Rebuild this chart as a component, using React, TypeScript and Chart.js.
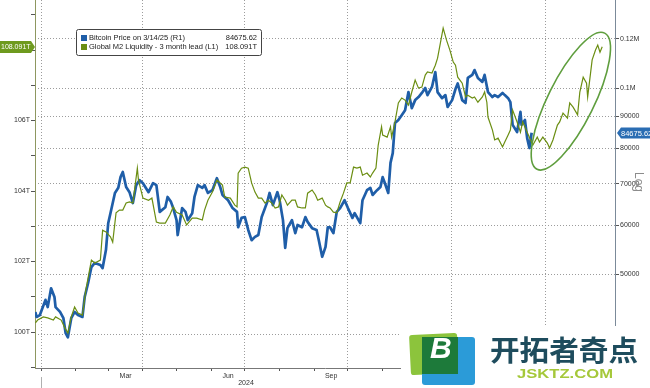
import React, { useEffect, useRef } from "react";
import { Chart, registerables } from "chart.js";

Chart.register(...registerables);

const FONT = '"Liberation Sans", Arial, sans-serif';

// x values are days since 2024-01-01
const btcSeries: [number, number][] = [
  [-5, 43500], [-4, 42700], [-1, 43000], [4, 45500], [6, 44300], [9, 47500], [12, 46000], [13, 44300],
  [17, 43500], [20, 42500], [22, 40200], [24, 39600], [27, 42500], [30, 43500], [33, 43000], [37, 42700],
  [39, 46000], [42, 48400], [45, 51400], [48, 52200], [53, 51800], [55, 51200], [58, 54800], [60, 60500],
  [62, 62800], [66, 67700], [69, 69000], [71, 71800], [73, 73200], [76, 69200], [79, 67900], [82, 65200],
  [85, 69700], [88, 71000], [91, 70200], [96, 67900], [100, 70200], [103, 69700], [106, 63100], [111, 64200],
  [113, 66700], [116, 65500], [118, 64000], [121, 61200], [122, 57900], [126, 64000], [129, 63100], [131, 61200],
  [135, 62800], [137, 66700], [140, 69700], [144, 69000], [146, 69700], [149, 67700], [153, 68400], [157, 71500],
  [160, 69200], [162, 67200], [167, 65900], [171, 64000], [175, 63100], [176, 59600], [179, 61700], [182, 61900],
  [185, 59000], [188, 56800], [191, 57500], [194, 57900], [197, 61900], [202, 65500], [204, 67700], [207, 64700],
  [211, 67900], [213, 65900], [216, 61200], [218, 55200], [220, 59400], [224, 61200], [227, 58300], [229, 60100],
  [233, 59600], [236, 61900], [238, 60800], [242, 59400], [246, 59000], [248, 56800], [251, 53400], [254, 55400],
  [256, 59600], [258, 59600], [261, 58300], [264, 63100], [267, 64000], [271, 65900], [274, 64000], [278, 61700],
  [280, 62800], [285, 60500], [287, 65900], [291, 68400], [294, 69000], [296, 67200], [300, 68400], [303, 69200],
  [305, 71800], [307, 70200], [310, 67700], [312, 75700], [314, 78500], [316, 87800], [319, 88800], [322, 90400],
  [325, 92100], [328, 98500], [331, 92800], [334, 95600], [337, 96700], [340, 98200], [343, 100000], [345, 97400],
  [349, 100400], [352, 106100], [354, 98500], [358, 96300], [361, 97400], [363, 93200], [367, 95600], [370, 99600],
  [372, 101700], [376, 95600], [379, 94600], [381, 103800], [385, 105000], [387, 106900], [390, 103800], [394, 102300],
  [396, 105000], [399, 98500], [403, 96700], [405, 97400], [408, 96700], [412, 98200], [414, 97400], [417, 96300],
  [419, 94900], [421, 87200], [425, 84900], [428, 91500], [429, 87200], [432, 88800], [434, 83000], [436, 80000],
  [438, 84675.62],
];

const m2Series: [number, number][] = [
  [-5, 100.26], [-3, 100.34], [2, 100.43], [6, 100.4], [11, 100.34], [13, 100.43], [18, 100.34], [21, 100.14],
  [24, 99.97], [27, 100.43], [30, 100.71], [33, 100.54], [37, 100.48], [40, 101.19], [45, 102.04], [48, 101.96],
  [53, 102.04], [55, 102.89], [58, 102.84], [62, 102.7], [64, 102.55], [67, 103.38], [70, 103.46], [73, 103.46],
  [76, 103.66], [79, 103.69], [82, 103.66], [86, 104.65], [87, 104.31], [91, 103.8], [96, 103.74], [99, 103.8],
  [103, 103.12], [106, 103.09], [111, 103.09], [115, 103.32], [118, 103.55], [121, 103.4], [126, 103.32], [130, 103.04],
  [135, 103.23], [139, 103.23], [144, 103.18], [146, 103.46], [149, 103.74], [153, 103.97], [157, 104.31], [162, 104.17],
  [164, 103.83], [169, 103.8], [173, 103.6], [175, 103.55], [176, 104.51], [179, 104.65], [182, 104.68], [185, 104.65],
  [188, 104.23], [191, 103.97], [194, 103.8], [197, 103.8], [200, 103.66], [203, 103.74], [206, 103.66], [209, 103.52],
  [212, 103.55], [215, 103.89], [218, 103.74], [220, 103.6], [224, 103.74], [227, 103.74], [229, 103.55], [233, 103.52],
  [236, 103.52], [238, 103.94], [242, 104.03], [245, 103.89], [247, 103.74], [251, 103.8], [254, 103.6], [256, 103.55],
  [258, 103.52], [261, 103.4], [264, 103.38], [267, 103.69], [270, 103.94], [273, 104.23], [276, 104.23], [279, 104.68],
  [282, 104.65], [285, 104.68], [287, 104.45], [291, 104.51], [294, 104.4], [296, 104.51], [299, 104.65], [301, 105.3],
  [304, 105.82], [305, 105.59], [309, 105.53], [312, 105.82], [313, 105.53], [316, 105.96], [319, 106.5], [322, 106.64],
  [325, 106.58], [328, 106.44], [331, 106.81], [334, 107.15], [337, 106.92], [340, 106.95], [343, 107.29], [345, 107.38],
  [349, 107.35], [352, 107.57], [354, 107.77], [357, 108.28], [359, 108.62], [362, 108.28], [365, 108.0], [368, 107.66],
  [370, 107.57], [372, 107.23], [376, 107.06], [379, 106.67], [381, 106.72], [385, 106.64], [387, 106.67], [390, 106.52],
  [394, 106.67], [396, 106.81], [398, 106.52], [399, 106.1], [403, 105.73], [405, 105.45], [408, 105.5], [412, 105.25],
  [414, 105.39], [417, 105.59], [419, 105.73], [421, 106.3], [425, 105.96], [428, 105.67], [430, 105.96], [434, 105.67],
  [437, 105.45], [439, 105.3], [443, 105.53], [445, 105.39], [448, 105.53], [452, 105.36], [454, 105.22], [457, 105.45],
  [461, 105.87], [463, 105.96], [466, 106.21], [470, 106.07], [472, 106.5], [475, 106.38], [479, 106.16], [481, 106.81],
  [484, 107.23], [487, 107.06], [488, 106.67], [492, 107.72], [495, 108.0], [497, 108.14], [499, 107.94], [501, 108.091],
];

const monthStarts = [0, 31, 60, 91, 121, 152, 182, 213, 244, 274, 305, 335, 366, 397, 425, 456, 486];
const quarterGrid = [0, 91, 182, 274, 366, 450];
const monthLabels: [number, string][] = [[75.5, "Mar"], [167, "Jun"], [259, "Sep"], [350.5, "Dec"], [440.5, "Mar"]];
const yearLabels: [number, string][] = [[183, "2024"], [440, "2025"]];
const yearStarts = [0, 366];
const leftTicks = [99, 100, 101, 102, 103, 104, 105, 106, 107, 108, 109];
const rightTicks = [40000, 50000, 60000, 70000, 80000, 90000, 100000, 120000];
const rightTickLabels: Record<number, string> = { 120000: "0.12M", 100000: "0.1M" };

const legendNames = ["Bitcoin Price on 3/14/25 (R1)", "Global M2 Liquidity - 3 month lead (L1)"];
const legendValues = ["84675.62", "108.091T"];
const lastBtc = 84675.62;
const lastM2 = 108.091;

const BLUE = "#1f5ea8";
const GREEN = "#6b8e12";

const xTickValues = Array.from(
  new Set([...monthStarts, ...quarterGrid, ...monthLabels.map((m) => m[0])])
).sort((a, b) => a - b);

function roundRectPath(ctx: CanvasRenderingContext2D, x: number, y: number, w: number, h: number, r: number) {
  ctx.beginPath();
  ctx.moveTo(x + r, y);
  ctx.lineTo(x + w - r, y);
  ctx.quadraticCurveTo(x + w, y, x + w, y + r);
  ctx.lineTo(x + w, y + h - r);
  ctx.quadraticCurveTo(x + w, y + h, x + w - r, y + h);
  ctx.lineTo(x + r, y + h);
  ctx.quadraticCurveTo(x, y + h, x, y + h - r);
  ctx.lineTo(x, y + r);
  ctx.quadraticCurveTo(x, y, x + r, y);
  ctx.closePath();
}

function fitText(ctx: CanvasRenderingContext2D, text: string, x: number, y: number, width: number) {
  const w = ctx.measureText(text).width;
  ctx.save();
  ctx.translate(x, y);
  ctx.scale(width / w, 1);
  ctx.fillText(text, 0, 0);
  ctx.restore();
}

const noPad = (s: any) => {
  s.paddingTop = 0;
  s.paddingBottom = 0;
  s.paddingLeft = 0;
  s.paddingRight = 0;
};

const overlayPlugin = {
  id: "overlay",
  afterDraw(chart: any) {
    const ctx: CanvasRenderingContext2D = chart.ctx;
    const xs = chart.scales.x;
    const yl = chart.scales.y;
    const yr = chart.scales.y1;
    ctx.save();

    // year labels + separators
    ctx.font = `7px ${FONT}`;
    ctx.fillStyle = "#333";
    ctx.textAlign = "center";
    ctx.textBaseline = "middle";
    yearLabels.forEach(([d, t]) => ctx.fillText(t, xs.getPixelForValue(d), 383.5));
    ctx.strokeStyle = "#b0b0b0";
    ctx.lineWidth = 1;
    yearStarts.forEach((d) => {
      const px = Math.round(xs.getPixelForValue(d)) + 0.5;
      ctx.beginPath();
      ctx.moveTo(px, 377);
      ctx.lineTo(px, 388);
      ctx.stroke();
    });

    // ellipse annotation
    const cx = xs.getPixelForValue(473);
    const cy = yl.getPixelForValue(106.55);
    ctx.beginPath();
    ctx.ellipse(cx, cy, 76, 23, -1.11, 0, Math.PI * 2);
    ctx.strokeStyle = "#5f9e3e";
    ctx.lineWidth = 1.6;
    ctx.stroke();

    // legend box
    roundRectPath(ctx, 76.5, 29.5, 185, 26, 2);
    ctx.fillStyle = "#fff";
    ctx.fill();
    ctx.strokeStyle = "#444";
    ctx.lineWidth = 1;
    ctx.stroke();
    ctx.font = `7.5px ${FONT}`;
    ctx.textBaseline = "middle";
    [BLUE, GREEN].forEach((c, i) => {
      const yy = 38 + i * 9;
      ctx.fillStyle = c;
      ctx.fillRect(81, yy - 3, 6, 6);
      ctx.fillStyle = "#222";
      ctx.textAlign = "left";
      ctx.fillText(legendNames[i], 89, yy);
      ctx.textAlign = "right";
      ctx.fillText(legendValues[i], 257, yy);
    });

    // left value tag
    const ly = Math.round(yl.getPixelForValue(lastM2));
    ctx.beginPath();
    ctx.moveTo(0, ly - 6);
    ctx.lineTo(31, ly - 6);
    ctx.lineTo(35, ly);
    ctx.lineTo(31, ly + 6);
    ctx.lineTo(0, ly + 6);
    ctx.closePath();
    ctx.fillStyle = "#6e9a1e";
    ctx.fill();
    ctx.fillStyle = "#fff";
    ctx.font = `7px ${FONT}`;
    ctx.textAlign = "left";
    ctx.fillText(legendValues[1], 1, ly + 0.5);

    // right value tag
    const ry = Math.round(yr.getPixelForValue(lastBtc));
    ctx.beginPath();
    ctx.moveTo(617, ry);
    ctx.lineTo(621, ry - 5.5);
    ctx.lineTo(650, ry - 5.5);
    ctx.lineTo(650, ry + 5.5);
    ctx.lineTo(621, ry + 5.5);
    ctx.closePath();
    ctx.fillStyle = "#2a6db3";
    ctx.fill();
    ctx.fillStyle = "#fff";
    ctx.font = `7.5px ${FONT}`;
    ctx.fillText(legendValues[0], 621, ry + 0.5);

    // "Log" label
    ctx.save();
    ctx.translate(638, 182);
    ctx.rotate(Math.PI / 2);
    ctx.font = `12px ${FONT}`;
    ctx.fillStyle = "#8c8c8c";
    ctx.textAlign = "center";
    ctx.textBaseline = "middle";
    ctx.fillText("Log", 0, 0);
    ctx.restore();

    // watermark
    ctx.fillStyle = "#fff";
    ctx.fillRect(401, 326, 249, 62);
    ctx.save();
    ctx.translate(434, 354);
    ctx.rotate(-0.05);
    ctx.fillStyle = "#8cc43c";
    roundRectPath(ctx, -24, -20, 48, 40, 3);
    ctx.fill();
    ctx.restore();
    ctx.save();
    ctx.translate(448.5, 361);
    ctx.fillStyle = "#2b9bd8";
    roundRectPath(ctx, -26.5, -24, 53, 48, 3);
    ctx.fill();
    ctx.restore();
    ctx.save();
    ctx.beginPath();
    ctx.rect(422, 337, 36, 37);
    ctx.fillStyle = "#1d7a3a";
    ctx.fill();
    ctx.restore();
    ctx.save();
    ctx.font = `italic bold 30px ${FONT}`;
    ctx.fillStyle = "#fff";
    ctx.textAlign = "left";
    ctx.textBaseline = "middle";
    ctx.fillText("B", 430, 350);
    ctx.restore();

    ctx.font = `bold 28px "Noto Sans CJK SC", sans-serif`;
    ctx.fillStyle = "#1e4c5d";
    ctx.textAlign = "left";
    ctx.textBaseline = "middle";
    fitText(ctx, "开拓者奇点", 490, 350, 148);
    ctx.font = `bold 13px ${FONT}`;
    ctx.fillStyle = "#a5c83a";
    fitText(ctx, "JSKTZ.COM", 517, 374.5, 96);

    ctx.restore();
  },
};

export default function App() {
  const ref = useRef<HTMLCanvasElement | null>(null);

  useEffect(() => {
    if (!ref.current) return;
    const chart = new Chart(ref.current, {
      type: "line",
      data: {
        datasets: [
          {
            label: legendNames[1],
            data: m2Series.map(([x, y]) => ({ x, y })),
            xAxisID: "x",
            yAxisID: "y",
            borderColor: GREEN,
            borderWidth: 1.2,
            pointRadius: 0,
            tension: 0,
            order: 0,
          },
          {
            label: legendNames[0],
            data: btcSeries.map(([x, y]) => ({ x, y })),
            xAxisID: "x",
            yAxisID: "y1",
            borderColor: BLUE,
            borderWidth: 2.7,
            borderJoinStyle: "round",
            pointRadius: 0,
            tension: 0,
            order: 1,
          },
        ],
      },
      options: {
        responsive: false,
        animation: false,
        devicePixelRatio: 1,
        events: [],
        layout: { padding: 0 },
        plugins: { legend: { display: false }, tooltip: { enabled: false } },
        scales: {
          x: {
            type: "linear",
            position: "bottom",
            min: -5.36,
            max: 512.4,
            afterBuildTicks: (s: any) => {
              s.ticks = xTickValues.map((v) => ({ value: v }));
            },
            afterFit: (s: any) => {
              s.height = 20;
              noPad(s);
            },
            grid: {
              color: (c: any) => (quarterGrid.includes(c.tick?.value) ? "#9c9c9c" : "rgba(0,0,0,0)"),
              tickColor: (c: any) => (monthStarts.includes(c.tick?.value) ? "#555" : "rgba(0,0,0,0)"),
              tickLength: 3,
              lineWidth: 1,
            },
            border: { display: true, color: "#777", dash: [1, 2] },
            ticks: {
              autoSkip: false,
              maxRotation: 0,
              minRotation: 0,
              padding: 1,
              color: "#333",
              font: { size: 7, family: FONT },
              callback: (v: any) => {
                const m = monthLabels.find((l) => l[0] === v);
                return m ? m[1] : "";
              },
            },
          },
          y: {
            type: "linear",
            position: "left",
            min: 98.98,
            max: 109.42,
            afterBuildTicks: (s: any) => {
              s.ticks = leftTicks.map((v) => ({ value: v }));
            },
            afterFit: (s: any) => {
              s.width = 35;
              noPad(s);
            },
            grid: { drawOnChartArea: false, tickLength: 4, tickColor: "#555", color: "#555" },
            border: { display: true, color: "#8e9760" },
            ticks: {
              autoSkip: false,
              padding: 1,
              color: "#333",
              font: { size: 7, family: FONT },
              callback: (v: any) => (v % 2 === 0 ? `${v}T` : ""),
            },
          },
          y1: {
            type: "logarithmic",
            position: "right",
            min: 35320,
            max: 138700,
            afterBuildTicks: (s: any) => {
              s.ticks = rightTicks.map((v) => ({ value: v }));
            },
            afterFit: (s: any) => {
              s.width = 35;
              noPad(s);
            },
            grid: { drawOnChartArea: true, color: "#9c9c9c", tickColor: "#555", tickLength: 4, lineWidth: 1 },
            border: { display: true, color: "#7b8a99", dash: [1, 2] },
            ticks: {
              autoSkip: false,
              padding: 1,
              color: "#333",
              font: { size: 7, family: FONT },
              callback: (v: any) => rightTickLabels[v] ?? String(v),
            },
          },
        },
      } as any,
      plugins: [overlayPlugin],
    });
    return () => chart.destroy();
  }, []);

  return (
    <div style={{ position: "fixed", left: 0, top: 0, width: 650, height: 388, background: "#fff" }}>
      <canvas ref={ref} width={650} height={388} style={{ display: "block", width: 650, height: 388 }} />
    </div>
  );
}
